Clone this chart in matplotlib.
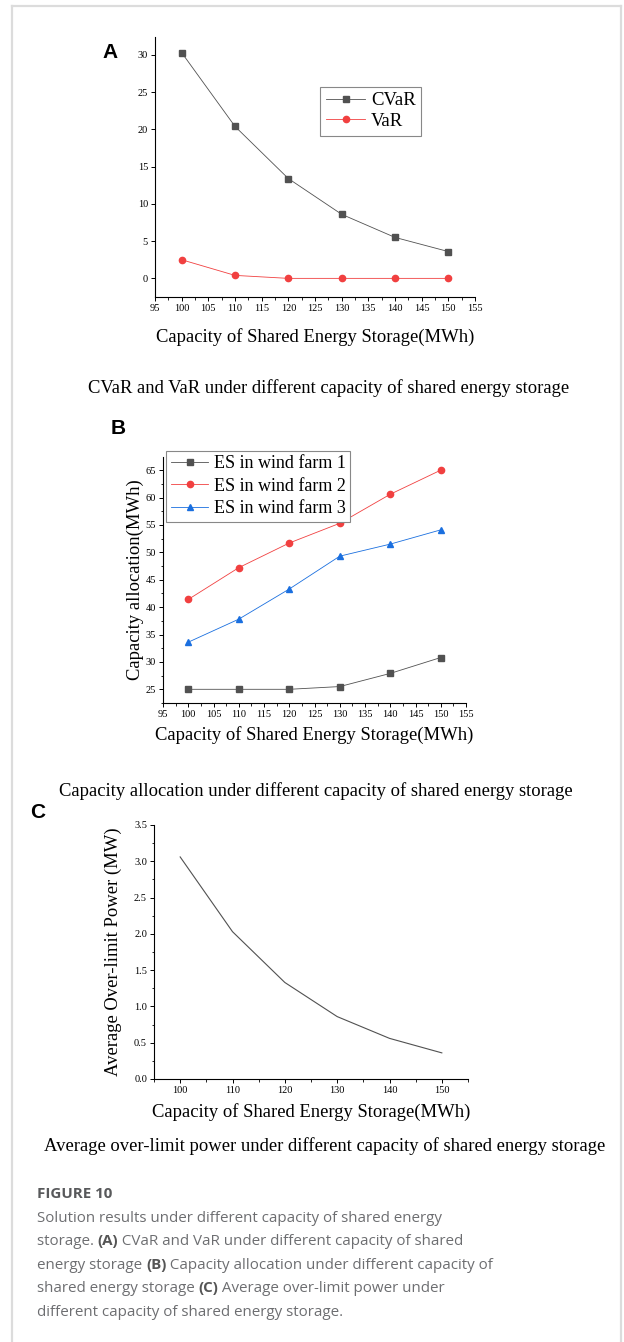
import matplotlib
matplotlib.use("Agg")
import matplotlib.pyplot as plt
from matplotlib.lines import Line2D
from matplotlib.ticker import MultipleLocator

capacity = [100, 110, 120, 130, 140, 150]

cvar = [30.3, 20.4, 13.4, 8.6, 5.5, 3.6]
var = [2.5, 0.4, 0.0, 0.0, 0.0, 0.0]

es_wf1 = [25.0, 25.0, 25.0, 25.5, 27.9, 30.8]
es_wf2 = [41.4, 47.2, 51.7, 55.3, 60.6, 65.0]
es_wf3 = [33.6, 37.8, 43.3, 49.3, 51.5, 54.1]

over_limit = [3.06, 2.03, 1.33, 0.86, 0.56, 0.36]

W, H = 624, 1342
SERIF = "Liberation Serif"
GRAY, RED, BLUE = "#515151", "#F14040", "#1A6FDF"
LABEL_SIZE = 13.4


def px_axes(fig, left, top, right, bottom):
    return fig.add_axes([left / W, 1 - bottom / H, (right - left) / W, (bottom - top) / H])


def fx(x):
    return x / W


def fy(y):
    return 1 - y / H


def style_axes(ax):
    for side in ["top", "right"]:
        ax.spines[side].set_visible(False)
    for side in ["left", "bottom"]:
        ax.spines[side].set_linewidth(0.8)
    ax.tick_params(which="major", direction="out", length=3, width=0.7,
                   labelsize=7.5, pad=2)
    ax.tick_params(which="minor", direction="out", length=1.8, width=0.6)
    for lab in ax.get_xticklabels() + ax.get_yticklabels():
        lab.set_fontfamily(SERIF)


fig = plt.figure(figsize=(W / 100, H / 100), dpi=100)

# light frame around the figure
for xs, ys in [((12, 12), (1342, 6)), ((12, 621), (6, 6)), ((621, 621), (6, 1342))]:
    fig.add_artist(Line2D([fx(v) for v in xs], [fy(v) for v in ys],
                          color="#dcdcdc", lw=1.6))

# ---- panel A
ax = px_axes(fig, 155, 37, 475, 297)
ax.plot(capacity, cvar, color=GRAY, lw=0.6, marker="s", markersize=4.5, label="CVaR")
ax.plot(capacity, var, color=RED, lw=0.6, marker="o", markersize=4.5, label="VaR")
ax.set_xlim(95, 155)
ax.set_ylim(-2.5, 32.4)
ax.xaxis.set_major_locator(MultipleLocator(5))
ax.xaxis.set_minor_locator(MultipleLocator(2.5))
ax.yaxis.set_major_locator(MultipleLocator(5))
style_axes(ax)
ax.set_xlabel("Capacity of Shared Energy Storage(MWh)", fontfamily=SERIF,
              fontsize=LABEL_SIZE, labelpad=11)
leg = ax.legend(loc="upper left", bbox_to_anchor=(0.487, 0.845), prop={"family": SERIF, "size": 13.5},
                fancybox=False, edgecolor="#888888", framealpha=1, handlelength=2.1,
                borderpad=0.3, labelspacing=0.18, handletextpad=0.3)
leg.get_frame().set_linewidth(0.8)
fig.text(fx(110), fy(53), "A", fontfamily="Liberation Sans", fontweight="bold",
         fontsize=15, ha="center", va="center")
fig.text(fx(329), fy(388), "CVaR and VaR under different capacity of shared energy storage",
         fontfamily=SERIF, fontsize=LABEL_SIZE, ha="center", va="center")

# ---- panel B
ax = px_axes(fig, 163, 457, 466, 703)
ax.plot(capacity, es_wf1, color=GRAY, lw=0.6, marker="s", markersize=4.5, label="ES in wind farm 1")
ax.plot(capacity, es_wf2, color=RED, lw=0.6, marker="o", markersize=4.5, label="ES in wind farm 2")
ax.plot(capacity, es_wf3, color=BLUE, lw=0.6, marker="^", markersize=5, label="ES in wind farm 3")
ax.set_xlim(95, 155)
ax.set_ylim(22.5, 67.4)
ax.xaxis.set_major_locator(MultipleLocator(5))
ax.xaxis.set_minor_locator(MultipleLocator(2.5))
ax.yaxis.set_major_locator(MultipleLocator(5))
ax.yaxis.set_minor_locator(MultipleLocator(2.5))
style_axes(ax)
ax.set_xlabel("Capacity of Shared Energy Storage(MWh)", fontfamily=SERIF,
              fontsize=LABEL_SIZE, labelpad=5)
ax.set_ylabel("Capacity allocation(MWh)", fontfamily=SERIF, fontsize=LABEL_SIZE, labelpad=1)
leg = ax.legend(loc="upper left", bbox_to_anchor=(0.01, 1.025), prop={"family": SERIF, "size": 13},
                fancybox=False, edgecolor="#888888", framealpha=1, handlelength=2.1,
                borderpad=0.25, labelspacing=0.3, handletextpad=0.3, borderaxespad=0)
leg.get_frame().set_linewidth(0.8)
fig.text(fx(118), fy(428), "B", fontfamily="Liberation Sans", fontweight="bold",
         fontsize=15, ha="center", va="center")
fig.text(fx(316), fy(791), "Capacity allocation under different capacity of shared energy storage",
         fontfamily=SERIF, fontsize=LABEL_SIZE, ha="center", va="center")

# ---- panel C
ax = px_axes(fig, 154, 825, 468, 1079)
ax.plot(capacity, over_limit, color=GRAY, lw=0.8)
ax.set_xlim(95, 155)
ax.set_ylim(0, 3.5)
ax.xaxis.set_major_locator(MultipleLocator(10))
ax.xaxis.set_minor_locator(MultipleLocator(5))
ax.yaxis.set_major_locator(MultipleLocator(0.5))
ax.yaxis.set_minor_locator(MultipleLocator(0.25))
ax.yaxis.set_major_formatter(lambda v, p: f"{v:.1f}")
style_axes(ax)
ax.set_xticks([100, 110, 120, 130, 140, 150])
for lab in ax.get_xticklabels():
    lab.set_fontfamily(SERIF)
ax.set_xlabel("Capacity of Shared Energy Storage(MWh)", fontfamily=SERIF,
              fontsize=LABEL_SIZE, labelpad=6)
ax.set_ylabel("Average Over-limit Power (MW)", fontfamily=SERIF, fontsize=LABEL_SIZE, labelpad=9)
fig.text(fx(38), fy(812), "C", fontfamily="Liberation Sans", fontweight="bold",
         fontsize=15, ha="center", va="center")
fig.text(fx(325), fy(1146), "Average over-limit power under different capacity of shared energy storage",
         fontfamily=SERIF, fontsize=LABEL_SIZE, ha="center", va="center")

# ---- figure caption
CAP = "Open Sans"
fig.text(fx(37), fy(1198), "FIGURE 10", fontfamily=CAP, fontweight="bold",
         fontsize=10.9, color="#58595b", va="baseline")

caption_lines = [
    [("Solution results under different capacity of shared energy", False)],
    [("storage. ", False), ("(A)", True), (" CVaR and VaR under different capacity of shared", False)],
    [("energy storage ", False), ("(B)", True), (" Capacity allocation under different capacity of", False)],
    [("shared energy storage ", False), ("(C)", True), (" Average over-limit power under", False)],
    [("different capacity of shared energy storage.", False)],
]
renderer = fig.canvas.get_renderer()
baselines = [1222, 1245, 1269, 1292, 1316]
for parts, base in zip(caption_lines, baselines):
    x = 37
    for s, bold in parts:
        t = fig.text(fx(x), fy(base), s, fontfamily=CAP, fontsize=10.9,
                     fontweight="bold" if bold else "normal",
                     color="#555555" if bold else "#6d6e71", va="baseline")
        x += t.get_window_extent(renderer).width

fig.savefig("out.png", dpi=100)
